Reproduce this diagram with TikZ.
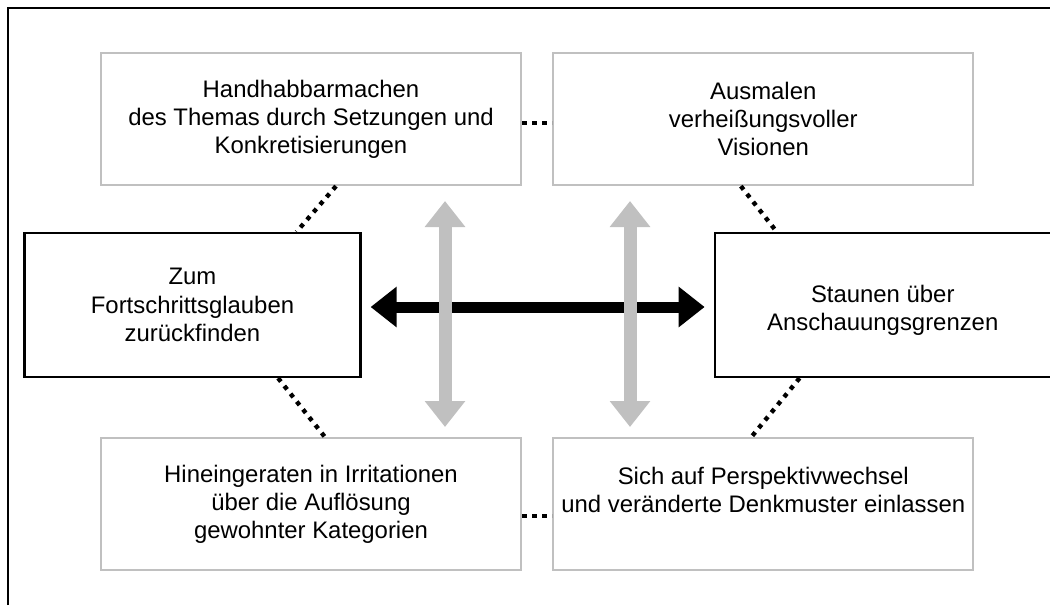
\documentclass[tikz,border=0pt]{standalone}
\usepackage{fontspec}
\setmainfont{Liberation Sans}
\usepackage{xcolor}
\usepackage{tikz}
\usetikzlibrary{arrows.meta,positioning}
\definecolor{boxgray}{HTML}{C0C0C0}

\begin{document}
\begin{tikzpicture}[node distance=0.75cm,
        softbox/.style={draw=boxgray, line width=1.6pt, minimum width=10.5cm, minimum height=3.3cm, align=center, font=\fontsize{17}{20}\selectfont},
        hardbox/.style={draw=black, line width=1.6pt, minimum width=8.4cm, minimum height=3.6cm, align=center, font=\fontsize{17}{20}\selectfont},
        dotline/.style={line width=0.11cm, dash pattern=on 0.11cm off 0.14cm},
        fatarrow/.style={line width=0.275cm, {Triangle[width=0.975cm,length=0.65cm]}-{Triangle[width=0.975cm,length=0.65cm]}},
        grayarrow/.style={draw=boxgray, line width=0.325cm, {Triangle[width=0.975cm,length=0.65cm]}-{Triangle[width=0.975cm,length=0.65cm]}}]
        \useasboundingbox (0,0) rectangle (26.25,-15.125);
        \draw[line width=1.4pt] (0.2,-15.125) -- (0.2,-0.2) -- (26.25,-0.2);

        \node[softbox] (TL) at (7.775,-2.975) {Handhabbarmachen\\des Themas durch Setzungen und\\Konkretisierungen};
        \node[softbox] (TR) [right=of TL] {Ausmalen\\verheißungsvoller\\Visionen};
        \node[softbox] (BL) [below=6.275cm of TL] {Hineingeraten in Irritationen\\über die Auflösung\\gewohnter Kategorien};
        \node[softbox] (BR) [right=of BL] {Sich auf Perspektivwechsel\\und veränderte Denkmuster einlassen\\\mbox{}};

        \node[hardbox] (ML) at (4.8125,-7.625) {Zum\\Fortschrittsglauben\\zurückfinden};
        \node[hardbox] (MR) [right=8.8cm of ML] {\mbox{}\\Staunen über\\Anschauungsgrenzen};

        \coordinate (U1) at (11.125,-5.025);
        \coordinate (D1) at (11.125,-10.675);
        \coordinate (U2) at (15.75,-5.025);
        \coordinate (D2) at (15.75,-10.675);

        \path[dotline]
          ([xshift=0.625cm]TL.south) edge ([xshift=2.6cm]ML.north)
          ([xshift=2.14cm]ML.south) edge ([xshift=0.35cm]BL.north)
          ([xshift=-0.56cm]TR.south) edge ([xshift=-2.65cm]MR.north)
          ([xshift=-2.08cm]MR.south) edge ([xshift=-0.3cm]BR.north)
          ([yshift=-0.1cm]TL.east) edge ([yshift=-0.1cm]TR.west)
          ([yshift=-0.29cm]BL.east) edge ([yshift=-0.29cm]BR.west);

        \draw[fatarrow, shorten <=0.225cm, shorten >=0.225cm] ([yshift=-0.05cm]ML.east) -- ([yshift=-0.05cm]MR.west);
        \draw[grayarrow] (U1) -- (D1);
        \draw[grayarrow] (U2) -- (D2);
\end{tikzpicture}
\end{document}
